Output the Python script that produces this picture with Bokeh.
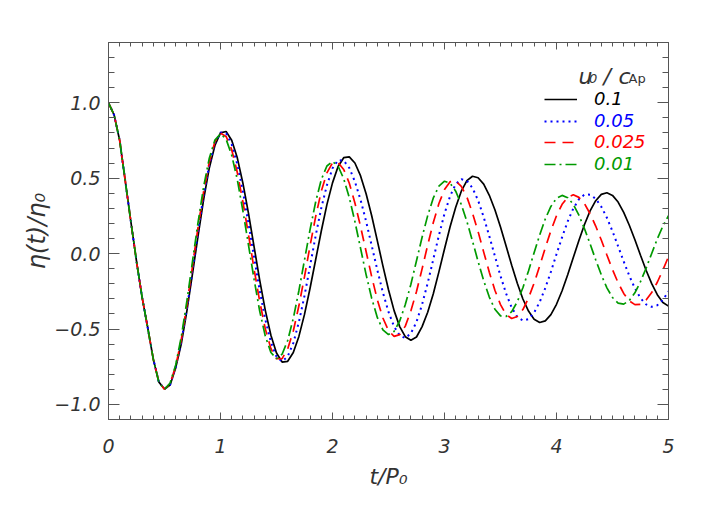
from bokeh.plotting import figure
from bokeh.models import (Range1d, SingleIntervalTicker, LinearAxis, Legend,
                          LegendItem, Label, CustomJSTickFormatter)
from bokeh.embed import file_html
from bokeh.resources import INLINE

# time axis t/P0
T = [0.00, 0.05, 0.10, 0.15, 0.20, 0.25, 0.30, 0.35, 0.40, 0.45,
     0.50, 0.55, 0.60, 0.65, 0.70, 0.75, 0.80, 0.85, 0.90, 0.95,
     1.00, 1.05, 1.10, 1.15, 1.20, 1.25, 1.30, 1.35, 1.40, 1.45,
     1.50, 1.55, 1.60, 1.65, 1.70, 1.75, 1.80, 1.85, 1.90, 1.95,
     2.00, 2.05, 2.10, 2.15, 2.20, 2.25, 2.30, 2.35, 2.40, 2.45,
     2.50, 2.55, 2.60, 2.65, 2.70, 2.75, 2.80, 2.85, 2.90, 2.95,
     3.00, 3.05, 3.10, 3.15, 3.20, 3.25, 3.30, 3.35, 3.40, 3.45,
     3.50, 3.55, 3.60, 3.65, 3.70, 3.75, 3.80, 3.85, 3.90, 3.95,
     4.00, 4.05, 4.10, 4.15, 4.20, 4.25, 4.30, 4.35, 4.40, 4.45,
     4.50, 4.55, 4.60, 4.65, 4.70, 4.75, 4.80, 4.85, 4.90, 4.95,
     5.00]

# eta(t)/eta0 for u0/cAp = 0.1
ETA_0100 = [1.0, 0.92, 0.75, 0.48, 0.21, -0.05, -0.29, -0.49, -0.70, -0.852,
            -0.898, -0.871, -0.758, -0.598, -0.380, -0.133, 0.120, 0.361, 0.568, 0.717,
            0.801, 0.810, 0.752, 0.635, 0.467, 0.267, 0.045, -0.176, -0.376, -0.541,
            -0.659, -0.719, -0.714, -0.656, -0.549, -0.403, -0.228, -0.039, 0.150, 0.325,
            0.469, 0.578, 0.636, 0.642, 0.601, 0.517, 0.397, 0.251, 0.086, -0.081,
            -0.240, -0.378, -0.484, -0.551, -0.574, -0.553, -0.484, -0.389, -0.266, -0.121,
            0.031, 0.178, 0.307, 0.414, 0.484, 0.513, 0.503, 0.461, 0.387, 0.291,
            0.176, 0.050, -0.077, -0.196, -0.301, -0.381, -0.435, -0.457, -0.446, -0.405,
            -0.336, -0.246, -0.140, -0.026, 0.087, 0.193, 0.283, 0.351, 0.393, 0.404,
            0.386, 0.342, 0.273, 0.188, 0.092, -0.011, -0.110, -0.199, -0.272, -0.324,
            -0.348]

# u0/cAp = 0.05
ETA_0050 = [1.0, 0.92, 0.75, 0.48, 0.21, -0.05, -0.29, -0.49, -0.70, -0.852,
            -0.898, -0.869, -0.751, -0.584, -0.365, -0.110, 0.148, 0.389, 0.588, 0.733,
            0.803, 0.798, 0.725, 0.593, 0.412, 0.200, -0.024, -0.244, -0.437, -0.587,
            -0.684, -0.715, -0.682, -0.593, -0.454, -0.279, -0.081, 0.120, 0.303, 0.453,
            0.566, 0.620, 0.617, 0.568, 0.478, 0.358, 0.214, 0.053, -0.108, -0.258,
            -0.387, -0.484, -0.543, -0.560, -0.529, -0.453, -0.337, -0.195, -0.038, 0.121,
            0.265, 0.381, 0.461, 0.494, 0.483, 0.435, 0.353, 0.242, 0.116, -0.017,
            -0.148, -0.265, -0.358, -0.420, -0.444, -0.434, -0.391, -0.321, -0.228, -0.120,
            -0.004, 0.109, 0.214, 0.299, 0.360, 0.392, 0.391, 0.364, 0.311, 0.238,
            0.148, 0.049, -0.052, -0.147, -0.230, -0.295, -0.337, -0.353, -0.342, -0.307,
            -0.250]

# u0/cAp = 0.025
ETA_0025 = [1.0, 0.92, 0.75, 0.48, 0.21, -0.05, -0.29, -0.49, -0.70, -0.853,
            -0.899, -0.864, -0.747, -0.570, -0.342, -0.084, 0.178, 0.414, 0.608, 0.742,
            0.798, 0.777, 0.689, 0.538, 0.344, 0.126, -0.103, -0.317, -0.499, -0.630,
            -0.697, -0.696, -0.633, -0.513, -0.346, -0.153, 0.054, 0.247, 0.414, 0.535,
            0.601, 0.604, 0.558, 0.467, 0.336, 0.181, 0.014, -0.153, -0.305, -0.427,
            -0.511, -0.549, -0.537, -0.481, -0.379, -0.251, -0.101, 0.057, 0.206, 0.332,
            0.425, 0.477, 0.481, 0.446, 0.375, 0.269, 0.146, 0.010, -0.123, -0.243,
            -0.338, -0.404, -0.430, -0.417, -0.371, -0.294, -0.196, -0.081, 0.038, 0.152,
            0.251, 0.327, 0.374, 0.390, 0.373, 0.331, 0.264, 0.183, 0.090, -0.009,
            -0.106, -0.193, -0.264, -0.314, -0.338, -0.336, -0.308, -0.258, -0.190, -0.108,
            -0.020]

# u0/cAp = 0.01
ETA_0010 = [1.0, 0.92, 0.75, 0.48, 0.21, -0.05, -0.29, -0.49, -0.70, -0.855,
            -0.900, -0.858, -0.738, -0.551, -0.314, -0.052, 0.209, 0.446, 0.633, 0.753,
            0.795, 0.759, 0.653, 0.491, 0.284, 0.057, -0.171, -0.381, -0.547, -0.656,
            -0.696, -0.667, -0.576, -0.429, -0.246, -0.042, 0.161, 0.344, 0.491, 0.581,
            0.611, 0.580, 0.497, 0.371, 0.213, 0.037, -0.139, -0.297, -0.423, -0.506,
            -0.537, -0.516, -0.447, -0.338, -0.203, -0.047, 0.109, 0.252, 0.369, 0.447,
            0.480, 0.467, 0.414, 0.325, 0.213, 0.083, -0.052, -0.180, -0.288, -0.369,
            -0.413, -0.417, -0.385, -0.319, -0.226, -0.115, 0.006, 0.124, 0.230, 0.313,
            0.367, 0.386, 0.371, 0.327, 0.255, 0.165, 0.065, -0.041, -0.141, -0.227,
            -0.291, -0.328, -0.335, -0.311, -0.260, -0.186, -0.097, 0.001, 0.098, 0.183,
            0.251]

SERIES = [ETA_0100, ETA_0050, ETA_0025, ETA_0010]
SERIES_LABELS = ["0.1", "0.05", "0.025", "0.01"]
Y_TICKS = [-1.0, -0.5, 0.0, 0.5, 1.0]
Y_TICK_LABELS = ["\u22121.0", "\u22120.5", "0.0", "0.5", "1.0"]

COLORS = ["#000000", "#0000ff", "#ff0000", "#009a00"]
DASHES = ["solid", "2 4", "11 7", "11 4 2 4"]
WIDTHS = [1.7, 2.0, 1.7, 1.7]
LEGEND_Y = [310, 288, 267, 245]

FONT = "DejaVu Sans"
AX = "#555555"
TXT = "#333333"

p = figure(width=698, height=497, output_backend="svg", toolbar_location=None,
           x_range=Range1d(0, 5), y_range=Range1d(-1.1, 1.4),
           min_border_left=108, min_border_right=30, min_border_top=42,
           min_border_bottom=78)
p.outline_line_color = None
p.xgrid.visible = False
p.ygrid.visible = False
p.background_fill_color = "white"
p.border_fill_color = "white"

xt = SingleIntervalTicker(interval=1, num_minor_ticks=10)
yt = SingleIntervalTicker(interval=0.5, num_minor_ticks=5)
blank = CustomJSTickFormatter(code="return ''")


def style(ax, maj, mnr):
    ax.axis_line_color = AX
    ax.axis_line_width = 1
    ax.major_tick_line_color = AX
    ax.minor_tick_line_color = AX
    ax.major_tick_in = maj
    ax.major_tick_out = 0
    ax.minor_tick_in = mnr
    ax.minor_tick_out = 0
    ax.major_label_text_font = FONT
    ax.major_label_text_font_style = "italic"
    ax.major_label_text_font_size = "19px"
    ax.major_label_text_color = TXT
    ax.axis_label_text_font = FONT
    ax.axis_label_text_font_style = "italic"
    ax.axis_label_text_color = TXT


xa = p.xaxis[0]
xa.ticker = xt
style(xa, 7, 4)
xa.major_label_standoff = 19
xa.axis_label = "t/P\u2080"
xa.axis_label_text_font_size = "22px"
xa.axis_label_standoff = 8

ya = p.yaxis[0]
ya.ticker = yt
style(ya, 11, 6)
ya.major_label_overrides = dict(zip(Y_TICKS, Y_TICK_LABELS))
ya.major_label_standoff = 8
ya.axis_label = "\u03b7(t)/\u03b7\u2080"
ya.axis_label_text_font_size = "24px"
ya.axis_label_standoff = 0

ra = LinearAxis(ticker=yt, formatter=blank)
style(ra, 11, 6)
ra.major_label_text_font_size = "0px"
p.add_layout(ra, "right")

ta = LinearAxis(ticker=xt, formatter=blank)
style(ta, 7, 4)
ta.major_label_text_font_size = "0px"
p.add_layout(ta, "above")

renderers = []
for ys, c, d, w in zip(SERIES, COLORS, DASHES, WIDTHS):
    r = p.line(T, ys, line_color=c, line_dash=d, line_width=w)
    renderers.append(r)

for r, lab, c, ly in zip(renderers, SERIES_LABELS, COLORS, LEGEND_Y):
    leg = Legend(items=[LegendItem(label=lab, renderers=[r])], location=(436, ly),
                 border_line_color=None, background_fill_alpha=0, padding=0,
                 margin=0, spacing=0, glyph_width=33, glyph_height=20,
                 label_height=20, label_standoff=17, label_text_color=c,
                 label_text_font=FONT, label_text_font_style="italic",
                 label_text_font_size="18px", label_text_baseline="middle")
    p.add_layout(leg)

# legend title u0 / cAp
for x, y, txt, size, style_ in [(4.196, 1.174, "u", "22px", "italic"),
                                (4.29, 1.160, "0", "13px", "italic"),
                                (4.42, 1.174, "/", "22px", "italic"),
                                (4.554, 1.174, "c", "22px", "italic"),
                                (4.643, 1.160, "Ap", "13px", "normal")]:
    p.add_layout(Label(x=x, y=y, text=txt, text_font=FONT, text_font_style=style_,
                       text_font_size=size, text_color=TXT,
                       text_baseline="alphabetic"))

open("out.html", "w").write(file_html(p, INLINE))
